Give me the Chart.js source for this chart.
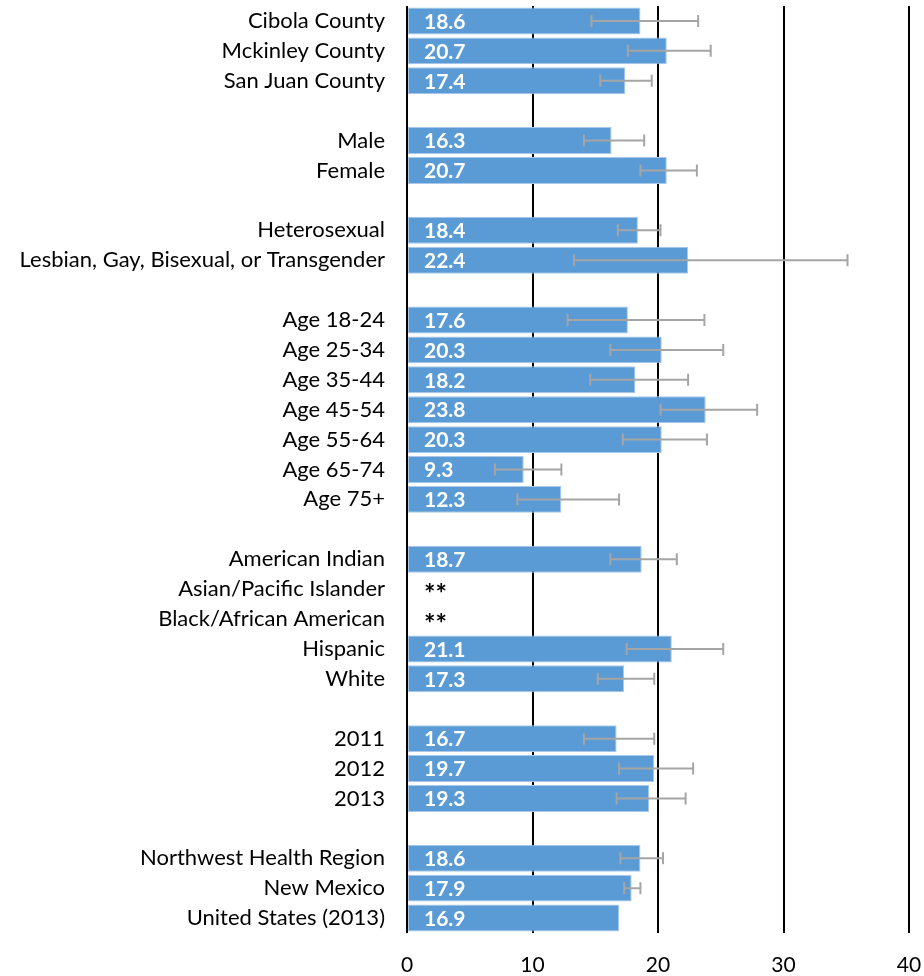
<!DOCTYPE html>
<html>
<head>
<meta charset="utf-8">
<script src="https://cdn.jsdelivr.net/npm/chart.js@4.4.1/dist/chart.umd.min.js"></script>
<style>
  html, body { margin: 0; padding: 0; background: #fff; }
  #wrap { width: 924px; height: 976px; position: relative; }
</style>
</head>
<body>
<div id="wrap"><canvas id="chart"></canvas></div>
<script>
// categories, blank strings are the gaps between groups
const categories = [
  "Cibola County", "Mckinley County", "San Juan County", "",
  "Male", "Female", "",
  "Heterosexual", "Lesbian, Gay, Bisexual, or Transgender", "",
  "Age 18-24", "Age 25-34", "Age 35-44", "Age 45-54", "Age 55-64", "Age 65-74", "Age 75+", "",
  "American Indian", "Asian/Pacific Islander", "Black/African American", "Hispanic", "White", "",
  "2011", "2012", "2013", "",
  "Northwest Health Region", "New Mexico", "United States (2013)",
];

// percentages
const values = [
  18.6, 20.7, 17.4, null,
  16.3, 20.7, null,
  18.4, 22.4, null,
  17.6, 20.3, 18.2, 23.8, 20.3, 9.3, 12.3, null,
  18.7, null, null, 21.1, 17.3, null,
  16.7, 19.7, 19.3, null,
  18.6, 17.9, 16.9,
];

// 95% confidence interval ends
const lows = [
  14.7, 17.6, 15.4, null,
  14.1, 18.6, null,
  16.8, 13.3, null,
  12.8, 16.2, 14.6, 20.2, 17.2, 7.0, 8.8, null,
  16.2, null, null, 17.5, 15.2, null,
  14.1, 16.9, 16.7, null,
  17.0, 17.3, null,
];
const highs = [
  23.2, 24.2, 19.5, null,
  18.9, 23.1, null,
  20.2, 35.1, null,
  23.7, 25.2, 22.4, 27.9, 23.9, 12.3, 16.9, null,
  21.5, null, null, 25.2, 19.7, null,
  19.7, 22.8, 22.2, null,
  20.4, 18.6, null,
];

// rows where the estimate was suppressed
const suppressed = ["Asian/Pacific Islander", "Black/African American"];

const xTicks = [0, 10, 20, 30, 40];

const FONT = "Lato, 'Open Sans', sans-serif";

// error bars
const errorBarPlugin = {
  id: "errorBars",
  afterDatasetsDraw(chart) {
    const ctx = chart.ctx;
    const x = chart.scales.x;
    const y = chart.scales.y;
    ctx.save();
    ctx.strokeStyle = "#a5a5a5";
    ctx.lineWidth = 2;
    categories.forEach((c, i) => {
      if (lows[i] == null || highs[i] == null) return;
      const yc = y.getPixelForValue(i);
      const x1 = x.getPixelForValue(lows[i]);
      const x2 = x.getPixelForValue(highs[i]);
      ctx.beginPath();
      ctx.moveTo(x1, yc);
      ctx.lineTo(x2, yc);
      ctx.moveTo(x1, yc - 6);
      ctx.lineTo(x1, yc + 6);
      ctx.moveTo(x2, yc - 6);
      ctx.lineTo(x2, yc + 6);
      ctx.stroke();
    });
    ctx.restore();
  },
};

// value labels inside bars, ** for suppressed
const valueLabelPlugin = {
  id: "valueLabels",
  afterDraw(chart) {
    const ctx = chart.ctx;
    const x = chart.scales.x;
    const y = chart.scales.y;
    ctx.save();
    ctx.textBaseline = "middle";
    ctx.textAlign = "left";
    const x0 = x.getPixelForValue(0) + 17;
    categories.forEach((c, i) => {
      const yc = y.getPixelForValue(i) + 1;
      if (values[i] != null) {
        ctx.font = "bold 21px " + FONT;
        ctx.fillStyle = "#ffffff";
        ctx.fillText(values[i].toFixed(1), x0, yc);
      } else if (suppressed.includes(c)) {
        ctx.font = "bold 27px " + FONT;
        ctx.fillStyle = "#000000";
        ctx.fillText("**", x0, yc + 4);
      }
    });
    ctx.restore();
  },
};

new Chart(document.getElementById("chart"), {
  type: "bar",
  data: {
    labels: categories,
    datasets: [
      {
        data: values,
        backgroundColor: "#5b9bd5",
        borderColor: "#a9c8ea",
        borderWidth: 1,
        borderSkipped: false,
        barPercentage: 0.9,
        categoryPercentage: 1,
      },
    ],
  },
  options: {
    indexAxis: "y",
    responsive: true,
    maintainAspectRatio: false,
    animation: false,
    layout: { padding: { top: 6, right: 15, bottom: 0, left: 0 } },
    plugins: {
      legend: { display: false },
      tooltip: { enabled: false },
    },
    scales: {
      x: {
        min: 0,
        max: 40,
        afterBuildTicks: (scale) => {
          scale.ticks = xTicks.map((v) => ({ value: v }));
        },
        afterFit: (scale) => {
          scale.height = 43;
          scale.paddingLeft = 0;
          scale.paddingRight = 0;
        },
        grid: { color: "#000000", lineWidth: 2, drawTicks: false },
        border: { display: false },
        ticks: {
          padding: 20,
          color: "#000000",
          font: { family: FONT, size: 21 },
        },
      },
      y: {
        afterFit: (scale) => {
          scale.width = 407;
          scale.paddingTop = 0;
          scale.paddingBottom = 0;
        },
        grid: { display: false },
        border: { display: false },
        ticks: {
          autoSkip: false,
          padding: 14,
          color: "#000000",
          font: { family: FONT, size: 22 },
        },
      },
    },
  },
  plugins: [errorBarPlugin, valueLabelPlugin],
});
</script>
</body>
</html>
